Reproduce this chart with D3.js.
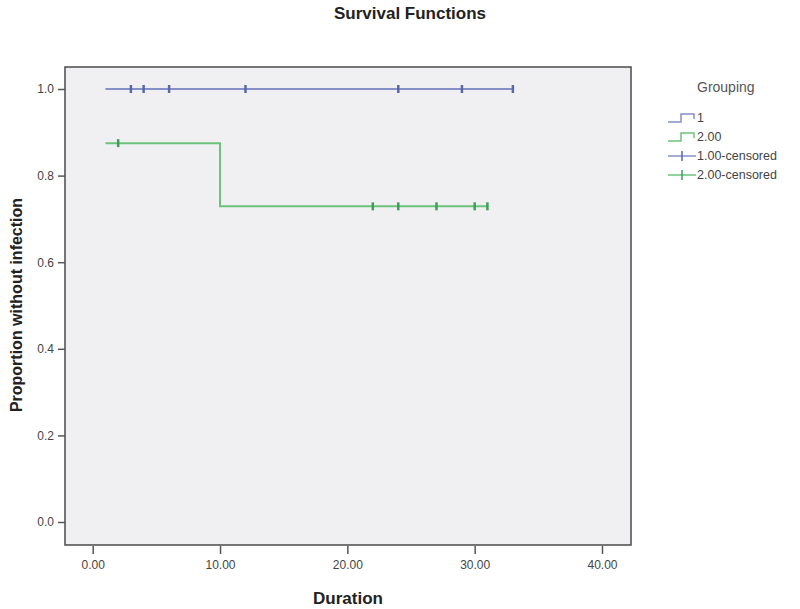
<!DOCTYPE html>
<html>
<head>
<meta charset="utf-8">
<script src="https://cdn.jsdelivr.net/npm/d3@7"></script>
<style>
  body { margin: 0; background: #fff; }
  svg { font-family: "Liberation Sans", Arial, sans-serif; }
</style>
</head>
<body>
<svg width="800" height="609"></svg>
<script>
// survival steps: [time, proportion]
var group1Steps = [[1, 1.0], [33, 1.0]];
var group1Censored = [3, 4, 6, 12, 24, 29, 33];
var group2Steps = [[1, 0.875], [10, 0.875], [10, 0.729], [31, 0.729]];
var group2Censored = [[2, 0.875], [22, 0.729], [24, 0.729], [27, 0.729], [30, 0.729], [31, 0.729]];
var xTicks = [0, 10, 20, 30, 40];
var yTicks = [0.0, 0.2, 0.4, 0.6, 0.8, 1.0];
var legendLabels = ["1", "2.00", "1.00-censored", "2.00-censored"];

var blueLine = "#8590c6", blueMark = "#5a68a8";
var greenLine = "#6cc27c", greenMark = "#3c9f58";

var svg = d3.select("svg");

// plot frame
var frame = { left: 65, top: 67, right: 631, bottom: 545 };

var x = d3.scaleLinear().domain([0, 40]).range([92.7, 602]);
var y = d3.scaleLinear().domain([0, 1]).range([522, 89]);

svg.append("rect")
    .attr("x", frame.left)
    .attr("y", frame.top)
    .attr("width", frame.right - frame.left)
    .attr("height", frame.bottom - frame.top)
    .attr("fill", "#f0f0f3")
    .attr("stroke", "#4a4a4a")
    .attr("stroke-width", 1.5);

// title
svg.append("text")
    .attr("x", 410).attr("y", 19)
    .attr("text-anchor", "middle")
    .style("font-size", "17px").style("font-weight", "bold")
    .attr("fill", "#222")
    .text("Survival Functions");

// x axis
var xAxis = svg.append("g")
    .attr("transform", "translate(0," + (frame.bottom + 1) + ")")
    .call(d3.axisBottom(x).tickValues(xTicks).tickFormat(d3.format(".2f")).tickSize(8).tickPadding(6));
xAxis.select(".domain").remove();
xAxis.selectAll("line").attr("stroke", "#555").attr("stroke-width", 1.5);
xAxis.selectAll("text").style("font-size", "12px").attr("fill", "#444")
    .style("font-family", "Liberation Sans, Arial, sans-serif");

// y axis
var yAxis = svg.append("g")
    .attr("transform", "translate(" + frame.left + ",0)")
    .call(d3.axisLeft(y).tickValues(yTicks).tickFormat(d3.format(".1f")).tickSize(7).tickPadding(4));
yAxis.select(".domain").remove();
yAxis.selectAll("line").attr("stroke", "#555").attr("stroke-width", 1.5);
yAxis.selectAll("text").style("font-size", "12px").attr("fill", "#444")
    .style("font-family", "Liberation Sans, Arial, sans-serif");

// axis titles
svg.append("text")
    .attr("x", 348).attr("y", 604)
    .attr("text-anchor", "middle")
    .style("font-size", "17px").style("font-weight", "bold")
    .attr("fill", "#222")
    .text("Duration");

svg.append("text")
    .attr("transform", "translate(22,305) rotate(-90)")
    .attr("text-anchor", "middle")
    .style("font-size", "16px").style("font-weight", "bold")
    .attr("fill", "#222")
    .text("Proportion without infection");

// step lines
var line = d3.line().x(d => x(d[0])).y(d => y(d[1]));

svg.append("path").datum(group1Steps)
    .attr("d", line).attr("fill", "none")
    .attr("stroke", blueLine).attr("stroke-width", 2);

svg.append("path").datum(group2Steps)
    .attr("d", line).attr("fill", "none")
    .attr("stroke", greenLine).attr("stroke-width", 2);

// censored markers (vertical ticks)
svg.selectAll(".cens1").data(group1Censored).enter().append("line")
    .attr("class", "cens1")
    .attr("x1", d => x(d)).attr("x2", d => x(d))
    .attr("y1", y(1) - 4).attr("y2", y(1) + 4)
    .attr("stroke", blueMark).attr("stroke-width", 2.5);

svg.selectAll(".cens2").data(group2Censored).enter().append("line")
    .attr("class", "cens2")
    .attr("x1", d => x(d[0])).attr("x2", d => x(d[0]))
    .attr("y1", d => y(d[1]) - 4).attr("y2", d => y(d[1]) + 4)
    .attr("stroke", greenMark).attr("stroke-width", 2.5);

// legend
var lg = svg.append("g");
lg.append("text")
    .attr("x", 697).attr("y", 92)
    .style("font-size", "14px")
    .attr("fill", "#555")
    .text("Grouping");

var rowY = [118, 137, 156, 175];
var legendColors = [[blueLine, blueMark], [greenLine, greenMark], [blueLine, blueMark], [greenLine, greenMark]];

legendLabels.forEach(function(lbl, i) {
    var yy = rowY[i];
    var c = legendColors[i];
    if (i < 2) {
        lg.append("path")
            .attr("d", "M668," + (yy + 4) + "H681V" + (yy - 4) + "H694V" + (yy + 1))
            .attr("fill", "none").attr("stroke", c[0]).attr("stroke-width", 1.5);
    } else {
        lg.append("line")
            .attr("x1", 668).attr("x2", 696).attr("y1", yy).attr("y2", yy)
            .attr("stroke", c[0]).attr("stroke-width", 1.5);
        lg.append("line")
            .attr("x1", 682).attr("x2", 682).attr("y1", yy - 5).attr("y2", yy + 5)
            .attr("stroke", c[1]).attr("stroke-width", 1.5);
    }
    lg.append("text")
        .attr("x", 697).attr("y", yy + 4)
        .style("font-size", "12.5px")
        .attr("fill", "#444")
        .text(lbl);
});
</script>
</body>
</html>
